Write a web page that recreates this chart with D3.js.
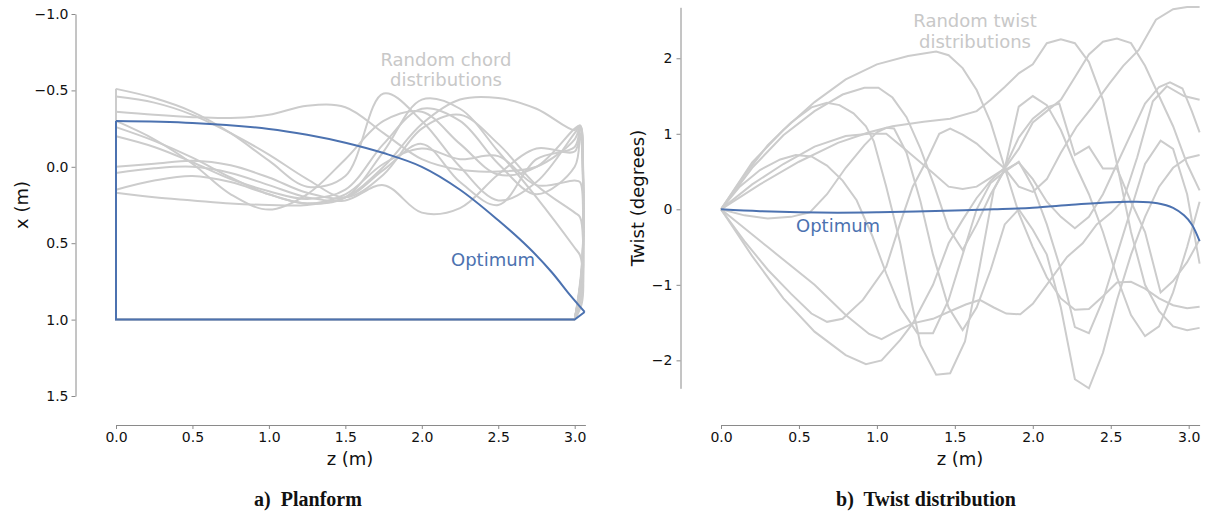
<!DOCTYPE html>
<meta charset="utf-8">
<style>
body { margin: 0; background: #fff; }
svg { display: block; }
.axis path, .axis line { stroke: #8a8a8a; stroke-width: 1; }
.axis text { fill: #111; font-family: "DejaVu Sans", sans-serif; font-size: 14px; }
.lab { fill: #111; font-family: "DejaVu Sans", sans-serif; font-size: 18px; }
.note { font-family: "DejaVu Sans", sans-serif; font-size: 18px; }
.title { font-family: "Liberation Serif", serif; font-weight: bold; font-size: 20px; fill: #111; white-space: pre; }
.rand { fill: none; stroke: #cccccc; stroke-width: 2; }
.opt { fill: none; stroke: #4c72b0; stroke-width: 2; }
</style>
<svg width="1207" height="516"></svg>
<script src="https://cdn.jsdelivr.net/npm/d3@7"></script>
<script>

// ---- planform (left) ----
var chordZ = [0, 0.25, 0.5, 0.75, 1.0, 1.25, 1.5, 1.75, 2.0, 2.25, 2.5, 2.75, 3.0, 3.035, 3.055, 3.045, 3.0];
var chordX = [
  [-0.51, -0.45, -0.36, -0.22, -0.04, 0.13, 0.06, -0.48, -0.30, 0.00, 0.22, 0.10, -0.22, -0.26, 0.05, 0.70, 1.0],
  [-0.46, -0.42, -0.34, -0.22, -0.08, 0.08, 0.20, 0.05, -0.25, -0.34, -0.15, 0.12, 0.30, 0.33, 0.50, 0.85, 1.0],
  [-0.36, -0.34, -0.325, -0.32, -0.34, -0.40, -0.39, -0.22, -0.05, 0.02, 0.03, 0.00, -0.18, -0.26, 0.10, 0.72, 1.0],
  [-0.26, -0.17, -0.06, 0.07, 0.18, 0.24, 0.20, -0.10, -0.44, -0.38, -0.10, 0.20, 0.53, 0.58, 0.72, 0.90, 1.0],
  [-0.20, -0.13, -0.03, 0.08, 0.16, 0.21, 0.15, -0.15, -0.38, -0.30, -0.02, 0.18, 0.00, -0.20, 0.15, 0.70, 1.0],
  [0.00, -0.02, -0.04, -0.01, 0.07, 0.17, 0.20, 0.02, -0.15, 0.10, 0.25, -0.05, -0.13, -0.25, 0.08, 0.68, 1.0],
  [0.04, 0.01, 0.00, 0.04, 0.12, 0.20, 0.22, 0.12, 0.30, 0.27, 0.05, -0.12, -0.10, -0.22, 0.12, 0.74, 1.0],
  [0.15, 0.09, 0.06, 0.10, 0.18, 0.24, 0.18, -0.02, -0.12, -0.05, -0.07, 0.12, 0.09, 0.10, 0.30, 0.80, 1.0],
  [0.17, 0.20, 0.22, 0.24, 0.25, 0.25, 0.20, 0.00, -0.28, -0.44, -0.45, -0.38, -0.24, -0.27, 0.00, 0.66, 1.0],
  [-0.30, -0.18, -0.02, 0.18, 0.28, 0.18, -0.05, -0.30, -0.36, -0.15, 0.05, 0.00, -0.25, -0.27, 0.06, 0.70, 1.0]
];
var optZ = [0, 0.5, 1.0, 1.25, 1.5, 1.75, 2.0, 2.25, 2.5, 2.7, 2.85, 2.97, 3.065];
var optX = [-0.30, -0.287, -0.248, -0.21, -0.158, -0.09, 0.0, 0.15, 0.35, 0.53, 0.69, 0.84, 0.95];
var trailX = 1.0, tipZ = 3.0;

// ---- twist (right) ----
var twist = [
  [[0,0],[0.2,0.62],[0.4,1.05],[0.6,1.42],[0.8,1.72],[1.0,1.92],[1.2,2.03],[1.38,2.09],[1.46,2.04],[1.55,1.87],[1.64,1.58],[1.73,1.15],[1.82,0.55],[1.91,-0.05],[2.0,-0.5],[2.09,-0.9],[2.18,-1.18],[2.27,-1.33],[2.36,-1.32],[2.45,-1.15],[2.54,-0.97],[2.63,-0.96],[2.72,-1.05],[2.81,-1.18],[2.9,-1.27],[2.99,-1.31],[3.07,-1.29]],
  [[0,0],[0.2,0.55],[0.4,0.98],[0.6,1.3],[0.78,1.52],[0.92,1.61],[1.01,1.61],[1.1,1.48],[1.19,1.22],[1.28,0.8],[1.37,0.3],[1.46,-0.25],[1.55,-0.54],[1.64,-0.2],[1.73,0.2],[1.82,0.52],[1.91,0.62],[2.0,0.4],[2.09,0.1],[2.18,-0.1],[2.27,-0.25],[2.36,-0.1],[2.45,0.2],[2.54,0.6],[2.63,1.0],[2.72,1.4],[2.81,1.62],[2.88,1.68],[2.96,1.6],[3.02,1.3],[3.07,1.02]],
  [[0,0],[0.15,0.45],[0.3,0.85],[0.45,1.15],[0.58,1.35],[0.68,1.41],[0.76,1.38],[0.85,1.27],[0.93,1.1],[0.98,0.9],[1.06,0.3],[1.15,-0.45],[1.22,-1.2],[1.28,-1.8],[1.38,-2.19],[1.47,-2.17],[1.565,-1.75],[1.66,-0.75],[1.75,0.26],[1.82,0.54],[1.91,1.36],[2.0,1.5],[2.09,1.38],[2.18,1.05],[2.27,0.6],[2.36,0.2],[2.45,-0.3],[2.54,-0.9],[2.63,-1.4],[2.72,-1.68],[2.81,-1.55],[2.9,-1.1],[2.99,-0.5],[3.07,0.1]],
  [[0,0],[0.12,0.3],[0.25,0.52],[0.38,0.66],[0.48,0.72],[0.58,0.7],[0.68,0.58],[0.78,0.38],[0.87,0.12],[0.97,-0.35],[1.06,-0.85],[1.15,-1.3],[1.26,-1.64],[1.36,-1.64],[1.46,-1.2],[1.55,-0.6],[1.64,0.0],[1.73,0.35],[1.82,0.5],[1.91,0.63],[2.0,0.3],[2.09,-0.2],[2.18,-0.8],[2.27,-1.56],[2.36,-1.64],[2.45,-1.2],[2.54,-0.6],[2.63,0.0],[2.72,0.6],[2.82,0.91],[2.9,0.8],[2.99,0.2],[3.07,-0.72]],
  [[0,0],[0.2,0.33],[0.4,0.6],[0.6,0.83],[0.8,0.97],[0.95,1.0],[1.06,1.0],[1.19,0.78],[1.36,0.48],[1.46,0.3],[1.55,0.27],[1.64,0.3],[1.73,0.42],[1.82,0.54],[1.91,0.8],[2.0,1.15],[2.09,1.3],[2.18,1.45],[2.27,1.75],[2.36,2.05],[2.45,2.22],[2.54,2.26],[2.63,2.2],[2.72,1.9],[2.81,1.5],[2.9,1.1],[2.99,0.6],[3.07,0.25]],
  [[0,0],[0.25,0.33],[0.5,0.63],[0.75,0.88],[0.95,1.02],[1.1,1.1],[1.3,1.16],[1.47,1.2],[1.64,1.3],[1.73,1.45],[1.82,1.62],[1.91,1.8],[2.0,1.92],[2.09,2.2],[2.18,2.25],[2.27,2.2],[2.36,1.95],[2.45,1.45],[2.54,0.6],[2.63,-0.3],[2.72,-1.0],[2.81,-1.35],[2.9,-1.55],[2.99,-1.6],[3.07,-1.57]],
  [[0,0],[0.15,-0.42],[0.3,-0.8],[0.45,-1.12],[0.58,-1.38],[0.68,-1.49],[0.78,-1.45],[0.91,-1.2],[1.06,-0.76],[1.15,-0.18],[1.23,0.3],[1.32,0.65],[1.4,1.0],[1.47,1.07],[1.55,0.99],[1.64,0.87],[1.73,0.7],[1.82,0.54],[1.91,0.3],[2.0,0.23],[2.09,0.4],[2.18,0.75],[2.28,1.09],[2.38,1.35],[2.49,1.66],[2.58,1.9],[2.68,2.11],[2.79,2.51],[2.9,2.65],[2.99,2.68],[3.07,2.68]],
  [[0,0],[0.2,-0.62],[0.4,-1.18],[0.6,-1.62],[0.8,-1.93],[0.93,-2.05],[1.03,-2.0],[1.15,-1.73],[1.23,-1.51],[1.36,-1.0],[1.46,-0.45],[1.55,-0.14],[1.64,0.15],[1.73,0.38],[1.82,0.55],[1.91,0.95],[2.0,1.2],[2.09,1.35],[2.17,1.4],[2.27,0.72],[2.36,0.83],[2.45,0.54],[2.54,0.54],[2.63,0.1],[2.72,-0.3],[2.82,-1.1],[2.9,-0.95],[2.99,-0.7],[3.07,-0.4]],
  [[0,0],[0.3,-0.5],[0.6,-1.0],[0.8,-1.4],[0.95,-1.65],[1.03,-1.72],[1.12,-1.62],[1.23,-1.51],[1.36,-1.45],[1.47,-1.35],[1.57,-1.26],[1.66,-1.2],[1.75,-1.3],[1.83,-1.38],[1.92,-1.39],[2.0,-1.25],[2.11,-0.94],[2.22,-0.63],[2.32,-0.45],[2.41,-0.2],[2.5,-0.05],[2.58,0.12],[2.67,0.69],[2.77,1.43],[2.86,1.63],[2.97,1.5],[3.07,1.45]],
  [[0,0],[0.15,-0.08],[0.3,-0.12],[0.45,-0.1],[0.57,-0.04],[0.68,0.2],[0.8,0.55],[0.92,0.85],[1.0,1.02],[1.06,1.08],[1.11,1.07],[1.19,0.75],[1.28,0.1],[1.36,-0.6],[1.46,-1.3],[1.55,-1.6],[1.64,-1.3],[1.73,-0.8],[1.82,-0.2],[1.91,0.0],[2.0,-0.27],[2.09,-0.6],[2.18,-1.3],[2.27,-2.25],[2.36,-2.37],[2.45,-1.9],[2.54,-1.2],[2.63,-0.6],[2.72,-0.1],[2.81,0.3],[2.9,0.55],[2.99,0.68],[3.07,0.72]]
];
var optTwistZ = [0, 0.25, 0.5, 0.75, 1.0, 1.25, 1.5, 1.75, 2.0, 2.25, 2.5, 2.65, 2.8, 2.9, 2.97, 3.02, 3.07];
var optTwist = [0, -0.025, -0.04, -0.045, -0.04, -0.03, -0.015, 0.0, 0.02, 0.06, 0.095, 0.1, 0.08, 0.02, -0.08, -0.2, -0.42];

var zTicks = [0, 0.5, 1.0, 1.5, 2.0, 2.5, 3.0];
var xTicks = [-1.0, -0.5, 0.0, 0.5, 1.0, 1.5];
var twistTicks = [-2, -1, 0, 1, 2];

var svg = d3.select("svg");
var axisY = 425;

// left scales
var xL = d3.scaleLinear().domain([0, 3.07]).range([116, 585.4]),
    yL = d3.scaleLinear().domain([-1, 1.5]).range([14, 396]);
// right scales
var xR = d3.scaleLinear().domain([0, 3.07]).range([721, 1199.6]),
    yR = d3.scaleLinear().domain([-2.37, 2.675]).range([388.3, 7.3]);

function styleAxis(g) {
  g.attr("font-size", null).attr("font-family", null);
}

svg.append("g").attr("class", "axis")
    .attr("transform", "translate(75.5,0)")
    .call(d3.axisLeft(yL).tickValues(xTicks).tickFormat(d3.format(".1f")).tickSize(4).tickSizeOuter(0).tickPadding(3))
    .call(styleAxis);
svg.append("g").attr("class", "axis")
    .attr("transform", "translate(0," + axisY + ")")
    .call(d3.axisBottom(xL).tickValues(zTicks).tickFormat(d3.format(".1f")).tickSize(4).tickSizeOuter(0).tickPadding(3))
    .call(styleAxis);

svg.append("g").attr("class", "axis")
    .attr("transform", "translate(680.5,0)")
    .call(d3.axisLeft(yR).tickValues(twistTicks).tickFormat(d3.format("d")).tickSize(4).tickSizeOuter(0).tickPadding(4))
    .call(styleAxis);
svg.append("g").attr("class", "axis")
    .attr("transform", "translate(0," + axisY + ")")
    .call(d3.axisBottom(xR).tickValues(zTicks).tickFormat(d3.format(".1f")).tickSize(4).tickSizeOuter(0).tickPadding(3))
    .call(styleAxis);

// planform lines
var smoothL = d3.line().x(function(d) { return xL(d[0]); }).y(function(d) { return yL(d[1]); })
    .curve(d3.curveCatmullRom.alpha(0.5));
var straightL = d3.line().x(function(d) { return xL(d[0]); }).y(function(d) { return yL(d[1]); });

var gL = svg.append("g");
chordX.forEach(function(xs) {
  var pts = chordZ.map(function(z, i) { return [z, xs[i]]; });
  gL.append("path").attr("class", "rand").attr("d", smoothL(pts));
  gL.append("path").attr("class", "rand")
      .attr("d", straightL([[tipZ, trailX], [0, trailX], [0, xs[0]]]));
});
var optPts = optZ.map(function(z, i) { return [z, optX[i]]; });
gL.append("path").attr("class", "opt").attr("d", smoothL(optPts));
gL.append("path").attr("class", "opt")
    .attr("d", straightL([optPts[optPts.length - 1], [tipZ, trailX], [0, trailX], [0, optX[0]]]));

// twist lines
var lineR = d3.line().x(function(d) { return xR(d[0]); }).y(function(d) { return yR(d[1]); });
var gR = svg.append("g");
twist.forEach(function(pts) {
  gR.append("path").attr("class", "rand").attr("d", lineR(pts));
});
gR.append("path").attr("class", "opt")
    .attr("d", lineR.curve(d3.curveCatmullRom)(optTwistZ.map(function(z, i) { return [z, optTwist[i]]; })));

// labels
svg.append("text").attr("class", "lab").attr("transform", "translate(28,205) rotate(-90)")
    .attr("text-anchor", "middle").text("x (m)");
svg.append("text").attr("class", "lab").attr("transform", "translate(644,198) rotate(-90)")
    .attr("text-anchor", "middle").text("Twist (degrees)");
svg.append("text").attr("class", "lab").attr("x", 350).attr("y", 465).attr("text-anchor", "middle").text("z (m)");
svg.append("text").attr("class", "lab").attr("x", 960).attr("y", 465).attr("text-anchor", "middle").text("z (m)");

svg.append("text").attr("class", "note").attr("fill", "#c8c8c8").attr("text-anchor", "middle")
    .attr("x", 446).attr("y", 66).text("Random chord");
svg.append("text").attr("class", "note").attr("fill", "#c8c8c8").attr("text-anchor", "middle")
    .attr("x", 446).attr("y", 86).text("distributions");
svg.append("text").attr("class", "note").attr("fill", "#4c72b0")
    .attr("x", 451).attr("y", 266).text("Optimum");

svg.append("text").attr("class", "note").attr("fill", "#c8c8c8").attr("text-anchor", "middle")
    .attr("x", 975).attr("y", 27).text("Random twist");
svg.append("text").attr("class", "note").attr("fill", "#c8c8c8").attr("text-anchor", "middle")
    .attr("x", 975).attr("y", 48).text("distributions");
svg.append("text").attr("class", "note").attr("fill", "#4c72b0")
    .attr("x", 796).attr("y", 232).text("Optimum");

svg.append("text").attr("class", "title").attr("x", 308).attr("y", 506).attr("text-anchor", "middle").text("a)  Planform");
svg.append("text").attr("class", "title").attr("x", 926).attr("y", 506).attr("text-anchor", "middle").text("b)  Twist distribution");

</script>
